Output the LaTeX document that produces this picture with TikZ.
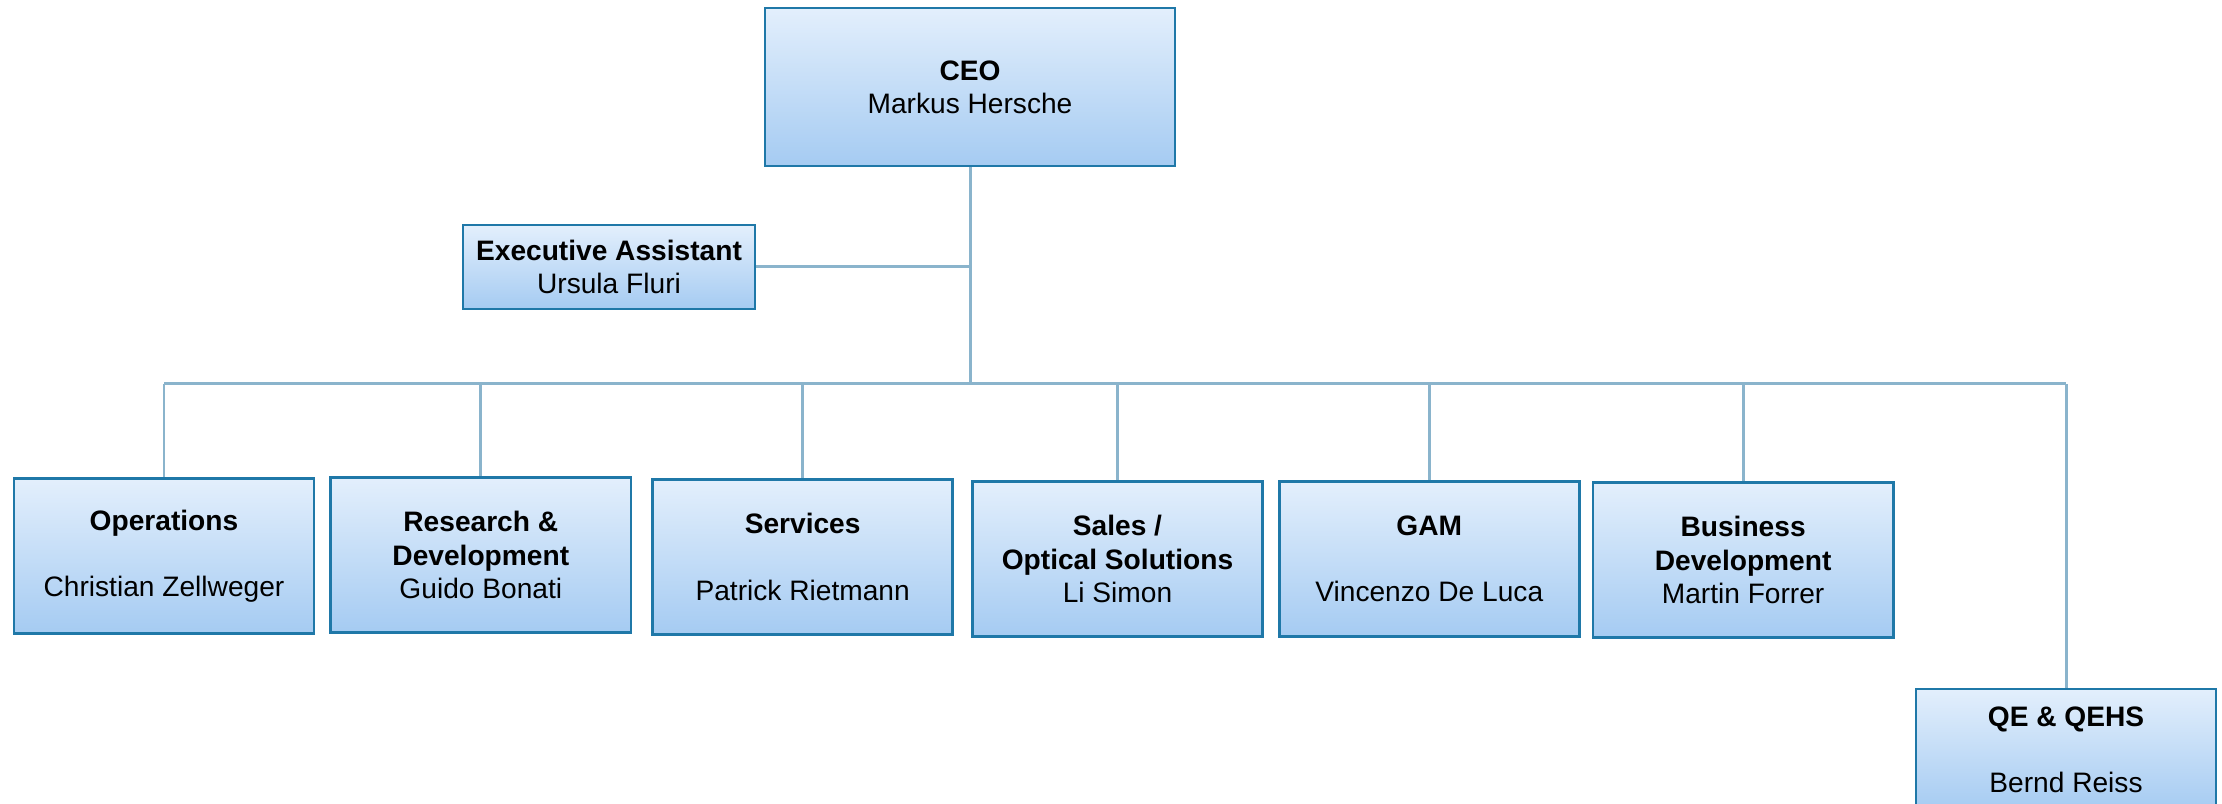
\documentclass[tikz,border=0pt]{standalone}
\usepackage{fontspec}
\setmainfont{Liberation Sans}
\usepackage{xcolor}
\usetikzlibrary{positioning}

\definecolor{boxline}{HTML}{1F78A8}
\definecolor{boxtop}{HTML}{E3EFFC}
\definecolor{boxbottom}{HTML}{A5CBF2}
\definecolor{wire}{HTML}{8AB4CC}

\tikzset{
  unit/.style={draw=boxline, line width=0.75pt, top color=boxtop, bottom color=boxbottom,
               align=center, inner sep=2pt, font=\fontsize{8}{9.4}\selectfont,
               minimum width=3cm, minimum height=1.55cm},
  link/.style={draw=wire, line width=0.85pt}
}

\begin{document}
\begin{tikzpicture}[x=0.01cm, y=-0.01cm]
  \useasboundingbox (0,0) rectangle (2222,804);

  % Top of the chart
  \node(ceo)[unit, minimum width = 4.1cm, minimum height = 1.58cm] at (970, 87)
       {\textbf{CEO}\\Markus Hersche};
  \node(assistant)[unit, minimum width = 2.92cm, minimum height = 0.84cm] at (609, 267)
       {\textbf{Executive Assistant}\\Ursula Fluri};

  % Departments
  \node(ops)[unit] at (164, 556) {\textbf{Operations}\\~\\Christian Zellweger};
  \node[right = 0.14cm of ops, yshift = 0.01cm] (rnd)[unit]
       {\textbf{Research \&}\\\textbf{Development}\\Guido Bonati};
  \node[right = 0.19cm of rnd, yshift = -0.02cm] (services)[unit]
       {\textbf{Services}\\~\\Patrick Rietmann};
  \node[right = 0.17cm of services, yshift = -0.02cm] (sales)[unit, minimum width = 2.9cm]
       {\textbf{Sales /}\\\textbf{Optical Solutions}\\Li Simon};
  \node[right = 0.14cm of sales] (gam)[unit]
       {\textbf{GAM}\\~\\Vincenzo De Luca};
  \node[right = 0.11cm of gam, yshift = -0.01cm] (busdev)[unit]
       {\textbf{Business}\\\textbf{Development}\\Martin Forrer};
  \node(qe)[unit, minimum height = 1.22cm] at (2066, 750)
       {\textbf{QE \& QEHS}\\~\\Bernd Reiss};

  % Connectors
  \coordinate (trunk) at (ceo.south |- 0,384);
  \coordinate (side) at (ceo.south |- assistant.east);
  \draw[link] (ceo.south) -- (trunk);
  \draw[link] (assistant.east) -- (side);
  \draw[link] (ops.north |- trunk) -- (qe.north |- trunk);
  \foreach \dept in {ops, rnd, services, sales, gam, busdev, qe}
    \draw[link] (\dept.north |- trunk) -- (\dept.north);

\end{tikzpicture}
\end{document}
